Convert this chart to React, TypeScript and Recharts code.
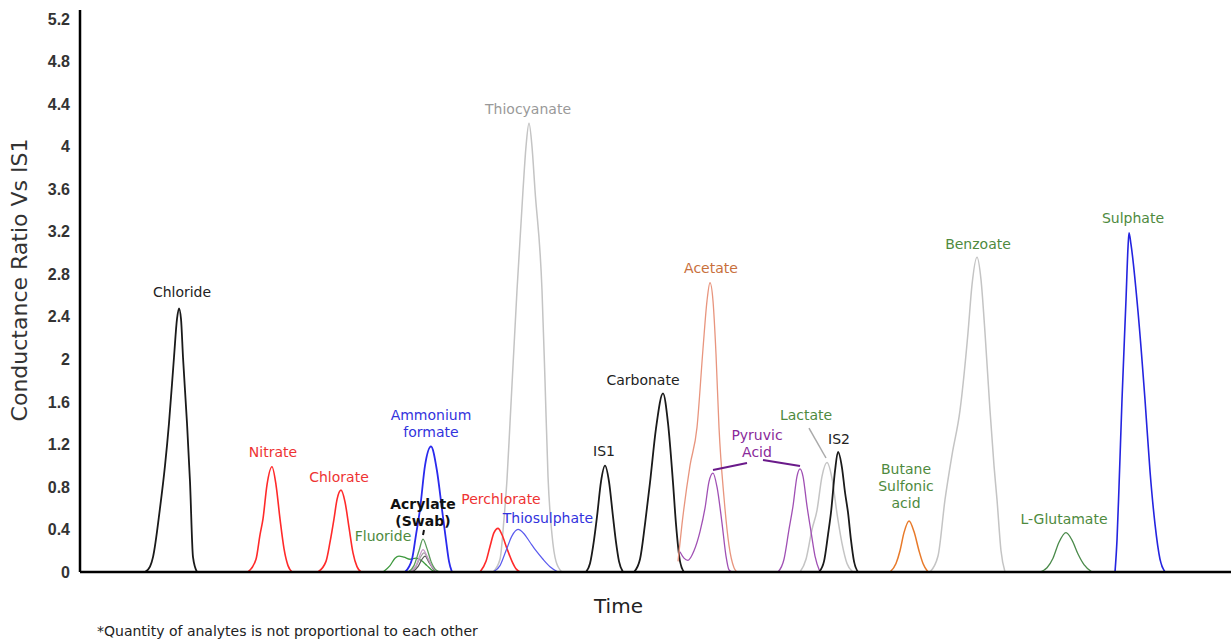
import { LineChart, Line, XAxis, YAxis, ReferenceDot, ReferenceLine } from "recharts";

type Pt = [number, number];

// retention position (arbitrary time units) vs conductance ratio to IS1
const CHLORIDE: Pt[] = [[145, 0], [150, 0.05], [153, 0.14], [160, 0.6], [165, 1.0], [169, 1.4], [174, 2.02], [177, 2.38], [179, 2.48], [181, 2.38], [183, 2.02], [187, 1.4], [190, 0.85], [193, 0.14], [197, 0]];
const NITRATE: Pt[] = [[248, 0], [256, 0.12], [260, 0.35], [263, 0.5], [267, 0.82], [272, 0.99], [276, 0.82], [280, 0.5], [284, 0.22], [288, 0.06], [292, 0]];
const CHLORATE: Pt[] = [[318, 0], [326, 0.1], [330, 0.28], [334, 0.5], [337, 0.68], [341, 0.77], [345, 0.66], [349, 0.42], [353, 0.18], [357, 0.05], [361, 0]];
const FLUORIDE: Pt[] = [[383, 0], [390, 0.06], [395, 0.13], [399, 0.15], [404, 0.14], [410, 0.12], [416, 0.13], [421, 0.11], [427, 0.06], [433, 0.01], [437, 0]];
const ACRYLATE_A: Pt[] = [[408, 0], [414, 0.06], [419, 0.2], [423, 0.31], [427, 0.22], [431, 0.1], [436, 0.02], [441, 0]];
const ACRYLATE_B: Pt[] = [[410, 0], [416, 0.06], [420, 0.16], [423, 0.21], [427, 0.15], [432, 0.05], [438, 0]];
const ACRYLATE_C: Pt[] = [[410, 0], [416, 0.05], [420, 0.13], [424, 0.18], [428, 0.12], [433, 0.04], [438, 0]];
const ACRYLATE_D: Pt[] = [[412, 0], [418, 0.05], [422, 0.12], [425, 0.15], [429, 0.09], [434, 0.02], [438, 0]];
const AMMONIUM_FORMATE: Pt[] = [[405, 0], [412, 0.12], [416, 0.35], [420, 0.59], [425, 1.0], [431, 1.18], [437, 0.95], [442, 0.59], [446, 0.3], [449, 0.1], [452, 0]];
const THIOCYANATE: Pt[] = [[493, 0], [500, 0.12], [504, 0.5], [507, 0.87], [510, 1.4], [517, 2.65], [523, 3.59], [526, 4.0], [529, 4.22], [532, 4.0], [535, 3.59], [542, 2.65], [545, 1.8], [548, 0.9], [552, 0.35], [556, 0.1], [562, 0]];
const PERCHLORATE: Pt[] = [[480, 0], [486, 0.1], [490, 0.24], [494, 0.37], [498, 0.41], [502, 0.35], [507, 0.22], [512, 0.1], [516, 0.03], [520, 0]];
const THIOSULPHATE: Pt[] = [[493, 0], [500, 0.06], [506, 0.2], [512, 0.34], [518, 0.4], [524, 0.36], [530, 0.28], [536, 0.2], [543, 0.12], [550, 0.05], [558, 0]];
const IS1: Pt[] = [[586, 0], [590, 0.08], [594, 0.3], [597, 0.52], [601, 0.85], [605, 1.0], [609, 0.85], [613, 0.52], [616, 0.28], [619, 0.1], [623, 0]];
const CARBONATE: Pt[] = [[634, 0], [640, 0.12], [645, 0.45], [650, 0.84], [656, 1.35], [663, 1.68], [668, 1.4], [673, 0.84], [676, 0.45], [680, 0.1], [684, 0]];
const ACETATE: Pt[] = [[678, 0.1], [682, 0.45], [690, 1.0], [697, 1.36], [703, 2.1], [707, 2.55], [710, 2.72], [713, 2.55], [716, 2.05], [719, 1.36], [724, 0.7], [729, 0.25], [734, 0.04], [737, 0]];
const PYRUVIC_1: Pt[] = [[680, 0.19], [684, 0.13], [688, 0.11], [694, 0.2], [700, 0.38], [705, 0.6], [709, 0.85], [713, 0.93], [717, 0.8], [722, 0.46], [726, 0.15], [729, 0.02], [732, 0]];
const PYRUVIC_2: Pt[] = [[778, 0], [784, 0.12], [789, 0.4], [793, 0.62], [797, 0.9], [800, 0.97], [803, 0.9], [807, 0.62], [811, 0.38], [815, 0.15], [820, 0]];
const LACTATE: Pt[] = [[800, 0], [806, 0.12], [812, 0.4], [817, 0.58], [822, 0.9], [827, 1.03], [832, 0.88], [837, 0.55], [842, 0.27], [847, 0.08], [853, 0]];
const IS2: Pt[] = [[819, 0], [824, 0.1], [828, 0.35], [831, 0.56], [835, 0.95], [838, 1.13], [842, 0.98], [845, 0.75], [848, 0.56], [851, 0.3], [854, 0.1], [858, 0]];
const BUTANE_SULFONIC: Pt[] = [[890, 0], [896, 0.08], [900, 0.2], [904, 0.37], [909, 0.48], [914, 0.38], [919, 0.2], [923, 0.08], [928, 0]];
const BENZOATE: Pt[] = [[930, 0], [938, 0.15], [945, 0.68], [952, 1.1], [960, 1.52], [968, 2.25], [972, 2.7], [977, 2.96], [981, 2.75], [985, 2.25], [990, 1.52], [994, 1.0], [997, 0.68], [1001, 0.2], [1005, 0]];
const L_GLUTAMATE: Pt[] = [[1040, 0], [1047, 0.04], [1053, 0.13], [1059, 0.28], [1066, 0.37], [1072, 0.3], [1078, 0.17], [1084, 0.07], [1092, 0]];
const SULPHATE: Pt[] = [[1115, 0], [1117, 0.3], [1119, 0.8], [1122, 1.62], [1126, 2.56], [1128, 3.05], [1129, 3.19], [1131, 3.08], [1138, 2.45], [1145, 1.62], [1150, 0.95], [1155, 0.45], [1160, 0.12], [1165, 0]];

const Y_TICKS = [0, 0.4, 0.8, 1.2, 1.6, 2, 2.4, 2.8, 3.2, 3.6, 4, 4.4, 4.8, 5.2];

const GREEN = "#4e8a3e";

const TRACES = [
  { pts: THIOCYANATE, color: "#c4c4c4", width: 1.5 },
  { pts: BENZOATE, color: "#c4c4c4", width: 1.5 },
  { pts: LACTATE, color: "#c4c4c4", width: 1.5 },
  { pts: CHLORIDE, color: "#1a1a1a", width: 1.8 },
  { pts: NITRATE, color: "#ff2a2a", width: 1.6 },
  { pts: CHLORATE, color: "#ff2a2a", width: 1.6 },
  { pts: FLUORIDE, color: "#3f9a3f", width: 1.3 },
  { pts: ACRYLATE_D, color: "#555555", width: 1.2 },
  { pts: ACRYLATE_C, color: "#a0a0a0", width: 1.2 },
  { pts: ACRYLATE_B, color: "#c89ac8", width: 1.2 },
  { pts: ACRYLATE_A, color: "#5a9a5a", width: 1.3 },
  { pts: AMMONIUM_FORMATE, color: "#2a2aee", width: 1.8 },
  { pts: PERCHLORATE, color: "#ff2a2a", width: 1.6 },
  { pts: THIOSULPHATE, color: "#5a5aee", width: 1.2 },
  { pts: IS1, color: "#1a1a1a", width: 1.8 },
  { pts: CARBONATE, color: "#1a1a1a", width: 1.8 },
  { pts: ACETATE, color: "#e8957e", width: 1.3 },
  { pts: PYRUVIC_1, color: "#a050b4", width: 1.3 },
  { pts: PYRUVIC_2, color: "#a050b4", width: 1.3 },
  { pts: IS2, color: "#1a1a1a", width: 1.8 },
  { pts: BUTANE_SULFONIC, color: "#e87a2a", width: 1.5 },
  { pts: L_GLUTAMATE, color: "#4a8a4a", width: 1.3 },
  { pts: SULPHATE, color: "#2424e0", width: 1.6 },
];

const LABELS = [
  { lines: ["Chloride"], t: 182, v: 2.59, color: "#222" },
  { lines: ["Nitrate"], t: 273, v: 1.086, color: "#ee3333" },
  { lines: ["Chlorate"], t: 339, v: 0.842, color: "#ee3333" },
  { lines: ["Fluoride"], t: 383, v: 0.296, color: GREEN },
  { lines: ["Ammonium", "formate"], t: 431, v: 1.425, color: "#3333dd" },
  { lines: ["Acrylate", "(Swab)"], t: 423, v: 0.597, color: "#111", bold: true },
  { lines: ["Perchlorate"], t: 501, v: 0.644, color: "#ee3333" },
  { lines: ["Thiosulphate"], t: 548, v: 0.465, color: "#3333dd" },
  { lines: ["Thiocyanate"], t: 528, v: 4.311, color: "#999" },
  { lines: ["IS1"], t: 604, v: 1.095, color: "#222" },
  { lines: ["Carbonate"], t: 643, v: 1.754, color: "#222" },
  { lines: ["Acetate"], t: 711, v: 2.816, color: "#c8703c" },
  { lines: ["Pyruvic", "Acid"], t: 757, v: 1.246, color: "#8a2a9a" },
  { lines: ["Lactate"], t: 806, v: 1.425, color: GREEN },
  { lines: ["IS2"], t: 839, v: 1.208, color: "#222" },
  { lines: ["Butane", "Sulfonic", "acid"], t: 906, v: 0.917, color: GREEN },
  { lines: ["Benzoate"], t: 978, v: 3.042, color: GREEN },
  { lines: ["L-Glutamate"], t: 1064, v: 0.456, color: GREEN },
  { lines: ["Sulphate"], t: 1133, v: 3.286, color: GREEN },
];

const POINTERS = [
  { from: [713, 0.959], to: [747, 1.025], color: "#6a1a8a", width: 2 },
  { from: [763, 1.053], to: [800, 0.997], color: "#6a1a8a", width: 2 },
  { from: [809, 1.354], to: [826, 1.072], color: "#aaaaaa", width: 1.5 },
  { from: [424, 0.395], to: [423, 0.348], color: "#111", width: 2 },
];

const FONT = "'DejaVu Sans', Verdana, sans-serif";

export default function App() {
  return (
    <div style={{ position: "absolute", left: 0, top: 0, width: 1231, height: 644, background: "#fff" }}>
      <LineChart width={1231} height={644} margin={{ top: 10, right: 0, bottom: 0, left: 0 }}>
        <XAxis
          type="number"
          dataKey="t"
          domain={[80, 1231]}
          allowDataOverflow
          tick={false}
          tickLine={false}
          height={72}
          axisLine={{ stroke: "#000", strokeWidth: 2.5 }}
        />
        <YAxis
          type="number"
          domain={[0, 5.285]}
          allowDataOverflow
          ticks={Y_TICKS}
          width={80}
          tickLine={false}
          tickSize={0}
          tickMargin={10}
          axisLine={{ stroke: "#000", strokeWidth: 2.5 }}
          tick={{ fill: "#333", fontSize: 16, fontWeight: 700, fontFamily: "'Liberation Sans', Arial, sans-serif" }}
          label={{
            content: () => (
              <text
                transform="translate(27,280) rotate(-90)"
                textAnchor="middle"
                fill="#333"
                fontSize={22}
                fontFamily={FONT}
              >
                Conductance Ratio Vs IS1
              </text>
            ),
          }}
        />
        {TRACES.map((tr, i) => (
          <Line
            key={i}
            data={tr.pts.map(([t, v]) => ({ t, v }))}
            dataKey="v"
            type="monotone"
            stroke={tr.color}
            strokeWidth={tr.width}
            dot={false}
            activeDot={false}
            isAnimationActive={false}
          />
        ))}
        {POINTERS.map((p, i) => (
          <ReferenceLine
            key={"p" + i}
            segment={[{ x: p.from[0], y: p.from[1] }, { x: p.to[0], y: p.to[1] }]}
            stroke={p.color}
            strokeWidth={p.width}
            ifOverflow="visible"
          />
        ))}
        {LABELS.map((l, i) => (
          <ReferenceDot
            key={"l" + i}
            x={l.t}
            y={l.v}
            r={0}
            ifOverflow="visible"
            shape={(p: any) => (
              <text
                x={p.cx}
                y={p.cy}
                textAnchor="middle"
                fill={l.color}
                fontSize={14}
                fontWeight={l.bold ? 700 : 400}
                fontFamily={FONT}
              >
                {l.lines.map((s, j) => (
                  <tspan key={j} x={p.cx} dy={j === 0 ? 0 : 17}>
                    {s}
                  </tspan>
                ))}
              </text>
            )}
          />
        ))}
      </LineChart>
      <div style={{ position: "absolute", left: 0, width: 1231, top: 594, textAlign: "center", fontFamily: FONT, fontSize: 20, color: "#222", paddingLeft: 3 }}>
        Time
      </div>
      <div style={{ position: "absolute", left: 97, top: 623, fontFamily: FONT, fontSize: 14, color: "#222", whiteSpace: "nowrap" }}>
        *Quantity of analytes is not proportional to each other
      </div>
    </div>
  );
}
